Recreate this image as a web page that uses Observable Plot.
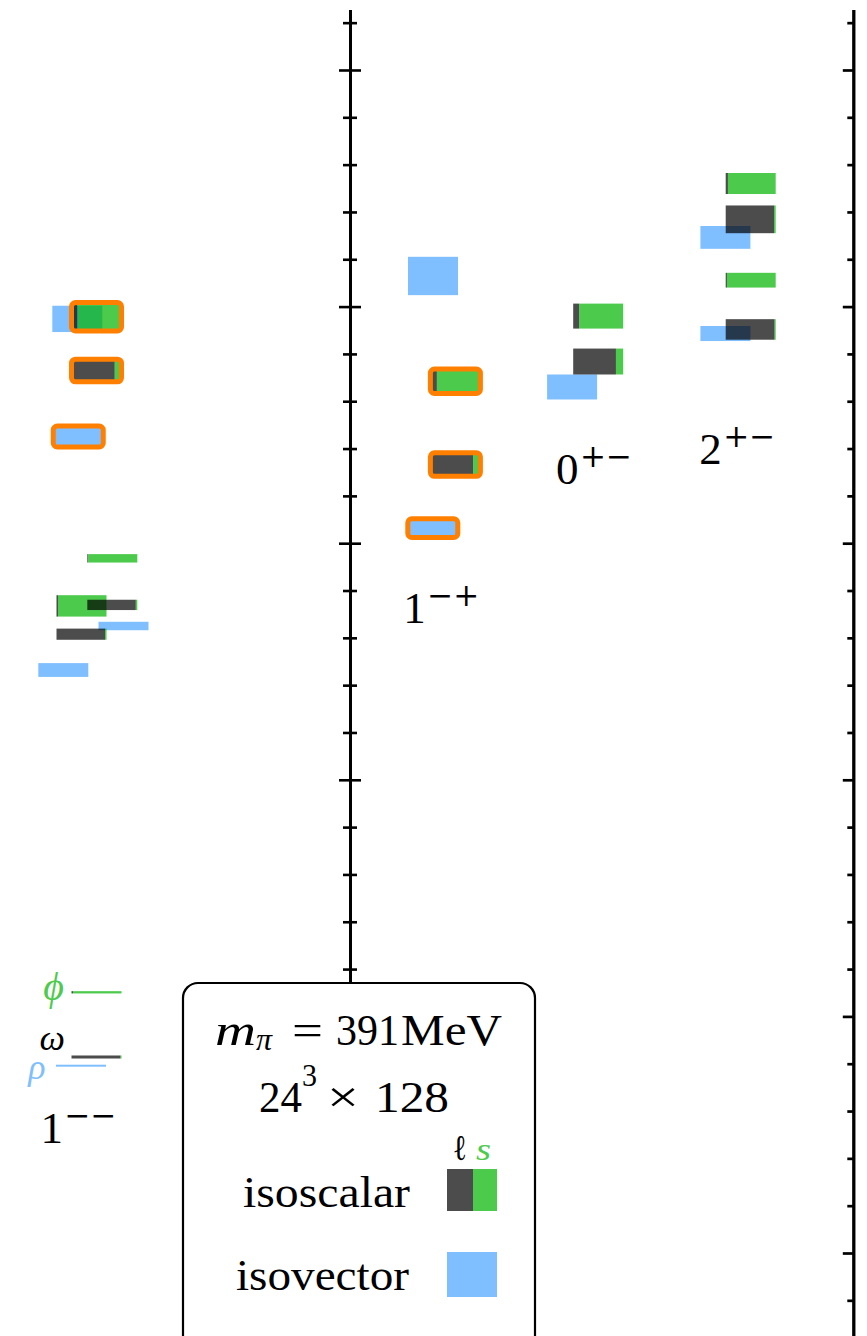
<!DOCTYPE html>
<html><head><meta charset="utf-8">
<script src="https://cdn.jsdelivr.net/npm/d3@7"></script>
<script src="https://cdn.jsdelivr.net/npm/@observablehq/plot@0.6"></script>
<style>html,body{margin:0;padding:0;background:#fff;overflow:hidden}</style>
</head><body><div id="chart"></div>
<script>
// ---------------- DATA ----------------
// J^PC channel labels
const jpcJ  = ["1", "1", "0", "2"];
const jpcPC = ["\u2212\u2212", "\u2212+", "+\u2212", "+\u2212"];
const jpcLabelX = [0.80, 8.054, 11.112, 13.974];   // column units
const jpcLabelM = [733, 1832, 2126, 2168];         // MeV (baseline)

// isovector levels: channel, horizontal slot (column units), mass (MeV), half-error (MeV), hybrid?
const isovector = [
  {jpc: "1--", x: 1.12,   m: 895.8,  e: 2.1,  hybrid: false},
  {jpc: "1--", x: 0.766,  m: 1732,   e: 14.6, hybrid: false},
  {jpc: "1--", x: 1.97,   m: 1825,   e: 8.9,  hybrid: false},
  {jpc: "1--", x: 1.065,  m: 2225.6, e: 22.1, hybrid: true},
  {jpc: "1--", x: 1.046,  m: 2474,   e: 27.8, hybrid: false},
  {jpc: "1-+", x: 8.156,  m: 2031.8, e: 19.8, hybrid: true},
  {jpc: "1-+", x: 8.16,   m: 2564.7, e: 40.5, hybrid: false},
  {jpc: "0+-", x: 10.942, m: 2330.1, e: 26.4, hybrid: false},
  {jpc: "2+-", x: 14.008, m: 2443.1, e: 15.9, hybrid: false},
  {jpc: "2+-", x: 14.008, m: 2646.2, e: 24.1, hybrid: false}
];

// isoscalar levels: ell = light-quark (ℓ) fraction, rest is strange (s)
const isoscalar = [
  {jpc: "1--", x: 1.43,   m: 914.2,  e: 3.2,  ell: 0.98,  hybrid: false},
  {jpc: "1--", x: 1.43,   m: 1050.9, e: 2.4,  ell: 0.03,  hybrid: false},
  {jpc: "1--", x: 1.13,   m: 1807.7, e: 11.8, ell: 0.97,  hybrid: false},
  {jpc: "1--", x: 1.13,   m: 1867.5, e: 22.6, ell: 0.03,  hybrid: false},
  {jpc: "1--", x: 1.746,  m: 1869.6, e: 10.9, ell: 0.97,  hybrid: false},
  {jpc: "1--", x: 1.746,  m: 1968,   e: 8.9,  ell: 0.02,  hybrid: false},
  {jpc: "1--", x: 1.43,   m: 2364.9, e: 23.9, ell: 0.865, hybrid: true},
  {jpc: "1--", x: 1.43,   m: 2478.5, e: 30,   ell: 0.12,  hybrid: true},
  {jpc: "1-+", x: 8.608,  m: 2166.2, e: 24.8, ell: 0.856, hybrid: true},
  {jpc: "1-+", x: 8.608,  m: 2342.2, e: 25.9, ell: 0.13,  hybrid: true},
  {jpc: "0+-", x: 11.464, m: 2383.9, e: 27.4, ell: 0.855, hybrid: false},
  {jpc: "0+-", x: 11.464, m: 2479.9, e: 26.4, ell: 0.12,  hybrid: false},
  {jpc: "2+-", x: 14.514, m: 2451.7, e: 21.7, ell: 0.978, hybrid: false},
  {jpc: "2+-", x: 14.514, m: 2555.8, e: 15.6, ell: 0.025, hybrid: false},
  {jpc: "2+-", x: 14.514, m: 2684.4, e: 29.3, ell: 0.966, hybrid: false},
  {jpc: "2+-", x: 14.514, m: 2760.1, e: 22.2, ell: 0.045, hybrid: false}
];

// ground-state names (ρ isovector, ω and φ isoscalar)
const groundNames = ["\u03C1", "\u03C9", "\u03D5"];

// axis ticks (MeV)
const majorTicks = [500, 1000, 1500, 2000, 2500, 3000];
const minorTicks = d3.range(400, 3200, 100).filter(v => v % 500 !== 0);

// ---------------- LAYOUT / STYLE ----------------
const W = 867, H = 1336;
const BOX = 1;                       // box width in column units
const leftAxisX = 7.0, rightAxisX = 17.066;
const axisTop = 3127, axisBottom = 324.6;
const COL = {l: "rgba(0,0,0,0.7)", s: "rgba(0,180,0,0.7)", v: "rgba(0,127,255,0.5)"};
const ORANGE = "#ff8000";
const SERIF = "Liberation Serif, Times New Roman, serif";

const segments = [];
isoscalar.forEach(d => {
  segments.push({x1: d.x, x2: d.x + d.ell * BOX, m: d.m, e: d.e, part: "l"});
  segments.push({x1: d.x + d.ell * BOX, x2: d.x + BOX, m: d.m, e: d.e, part: "s"});
});
const hybrids = isovector.filter(d => d.hybrid).concat(isoscalar.filter(d => d.hybrid));
const jpcData = jpcJ.map((j, i) => ({j, pc: jpcPC[i], x: jpcLabelX[i], m: jpcLabelM[i]}));

const rho = isovector[0], omega = isoscalar[0], phi = isoscalar[1];

const plot = Plot.plot({
  width: W, height: H, margin: 0,
  x: {domain: [0, 17.34], axis: null},
  y: {domain: [324.6, 3147.9], axis: null},
  color: {type: "identity"},
  marks: [
    // axes
    Plot.ruleX([leftAxisX], {y1: axisBottom, y2: axisTop, stroke: "black", strokeWidth: 3}),
    Plot.ruleY(majorTicks, {x1: leftAxisX - 0.22, x2: leftAxisX + 0.22, stroke: "black", strokeWidth: 2.6}),
    Plot.ruleY(minorTicks, {x1: leftAxisX - 0.14, x2: leftAxisX + 0.14, stroke: "black", strokeWidth: 2.6}),
    Plot.ruleX([rightAxisX], {y1: axisBottom, y2: axisTop, stroke: "black", strokeWidth: 3.3}),
    Plot.ruleY(majorTicks, {x1: rightAxisX - 0.21, x2: rightAxisX, stroke: "black", strokeWidth: 2.7}),
    Plot.ruleY(minorTicks, {x1: rightAxisX - 0.12, x2: rightAxisX, stroke: "black", strokeWidth: 2.7}),
    // isovector boxes
    Plot.rect(isovector, {x1: d => d.x, x2: d => d.x + BOX, y1: d => d.m - d.e, y2: d => d.m + d.e, fill: COL.v}),
    // isoscalar boxes (ℓ / s split)
    Plot.rect(segments, {x1: "x1", x2: "x2", y1: d => d.m - d.e, y2: d => d.m + d.e, fill: d => COL[d.part]}),
    // hybrid outlines
    Plot.rect(hybrids, {x1: d => d.x, x2: d => d.x + BOX, y1: d => d.m - d.e, y2: d => d.m + d.e,
      fill: "none", stroke: ORANGE, strokeWidth: 5, rx: 4}),
    // J^PC labels
    Plot.text(jpcData, {x: "x", y: "m", text: "j", textAnchor: "start", lineAnchor: "bottom",
      fontSize: 45, fontFamily: SERIF, fill: "black"}),
    Plot.text(jpcData, {x: "x", y: "m", text: "pc", textAnchor: "start", lineAnchor: "bottom",
      dx: 24, dy: -17, fontSize: 31, fontFamily: "DejaVu Serif", fill: "black"}),
    // ground-state names
    Plot.text([phi], {x: "x", y: "m", text: () => groundNames[2], textAnchor: "end", lineAnchor: "bottom",
      dx: -8, dy: 7, fontSize: 40, fontStyle: "italic", fontFamily: SERIF, fill: "rgb(78,203,78)"}),
    Plot.text([omega], {x: "x", y: "m", text: () => groundNames[1], textAnchor: "end", lineAnchor: "bottom",
      dx: -7, dy: -7, fontSize: 36, fontStyle: "italic", fontFamily: SERIF, fill: "black"}),
    Plot.text([rho], {x: "x", y: "m", text: () => groundNames[0], textAnchor: "end", lineAnchor: "bottom",
      dx: -11, dy: 13, fontSize: 36, fontStyle: "italic", fontFamily: SERIF, fill: "rgb(128,191,255)"})
  ]
});
document.getElementById("chart").appendChild(plot);

// ---------------- LEGEND (inset box) ----------------
const svg = d3.select(plot);
const g = svg.append("g").attr("class", "legend").attr("text-anchor", "start");
g.append("rect").attr("x", 183).attr("y", 983).attr("width", 352).attr("height", 390)
  .attr("rx", 15).attr("fill", "white").attr("stroke", "black").attr("stroke-width", 2.2);
function t(str, x, y, size, opts = {}) {
  const el = g.append("text").attr("x", x).attr("y", y).text(str)
    .attr("text-anchor", "start")
    .attr("font-family", SERIF).attr("font-size", size)
    .attr("fill", opts.fill || "black");
  if (opts.italic) el.attr("font-style", "italic");
  if (opts.len) el.attr("textLength", opts.len).attr("lengthAdjust", "spacingAndGlyphs");
  return el;
}
t("m", 215, 1044.5, 45, {italic: true, len: 41});
t("\u03C0", 256, 1050, 31, {italic: true, len: 16});
t("=", 292, 1044.5, 45, {len: 31});
t("391", 336, 1044.5, 45, {len: 63});
t("MeV", 401, 1044.5, 45, {len: 101});
t("24", 259, 1112, 45, {len: 43});
t("3", 302, 1086, 31, {len: 15});
t("\u00D7", 327, 1112, 45, {len: 32});
t("128", 375, 1112, 45, {len: 74});
t("\u2113", 453, 1160, 36, {len: 14});
t("s", 476, 1160, 32, {italic: true, len: 15, fill: "rgb(78,203,78)"});
t("isoscalar", 243, 1207, 45, {len: 167});
t("isovector", 236, 1290, 45, {len: 173});
g.append("rect").attr("x", 447).attr("y", 1169).attr("width", 26).attr("height", 42).attr("fill", COL.l);
g.append("rect").attr("x", 473).attr("y", 1169).attr("width", 24).attr("height", 42).attr("fill", COL.s);
g.append("rect").attr("x", 447).attr("y", 1252).attr("width", 50).attr("height", 45).attr("fill", COL.v);
</script>
</body></html>
